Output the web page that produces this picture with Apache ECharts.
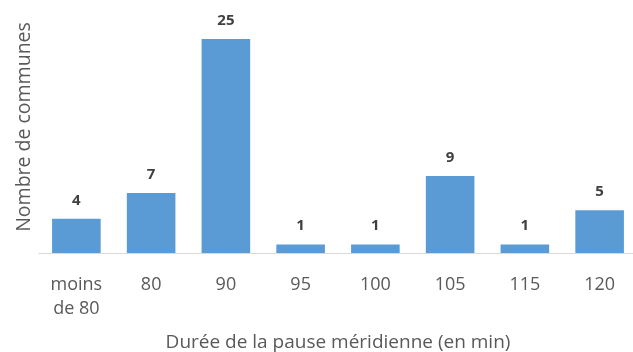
<!DOCTYPE html>
<html>
<head>
<meta charset="utf-8">
<script src="https://cdn.jsdelivr.net/npm/echarts@6/dist/echarts.min.js"></script>
<style>
  html, body { margin: 0; padding: 0; background: #ffffff; }
  #chart { width: 633px; height: 352px; }
</style>
</head>
<body>
<div id="chart"></div>
<script>
// Durée de la pause méridienne : nombre de communes par durée
const categories = ['moins\nde 80', '80', '90', '95', '100', '105', '115', '120'];
const communes = [4, 7, 25, 1, 1, 9, 1, 5];

const FONT = '"Open Sans", "Noto Sans", sans-serif';

const chart = echarts.init(document.getElementById('chart'), null, { renderer: 'canvas' });
chart.setOption({
  backgroundColor: '#ffffff',
  animation: false,
  grid: { left: 39, right: -4, top: 39, bottom: 99, outerBoundsMode: 'none', containLabel: false },
  xAxis: {
    type: 'category',
    data: categories,
    axisLine: { show: true, lineStyle: { color: '#d9d9d9', width: 1 } },
    axisTick: { show: false },
    axisLabel: {
      color: '#595959', fontFamily: FONT, fontSize: 18, margin: 20, lineHeight: 24
    },
    name: 'Durée de la pause méridienne (en min)',
    nameLocation: 'middle',
    nameGap: 80,
    nameTextStyle: { color: '#595959', fontFamily: FONT, fontSize: 19 }
  },
  yAxis: {
    type: 'value',
    min: 0,
    max: 25,
    show: false
  },
  graphic: [{
    type: 'text',
    x: 24,
    y: 127,
    rotation: Math.PI / 2,
    style: {
      text: 'Nombre de communes',
      fill: '#595959',
      font: '19.5px ' + FONT,
      textAlign: 'center',
      textVerticalAlign: 'middle'
    }
  }],
  series: [{
    type: 'bar',
    data: communes,
    barWidth: '65%',
    itemStyle: { color: '#5b9bd5' },
    label: {
      show: true,
      position: 'top',
      distance: 11,
      color: '#404040',
      fontFamily: FONT,
      fontWeight: 'bold',
      fontSize: 15
    }
  }]
});
</script>
</body>
</html>
